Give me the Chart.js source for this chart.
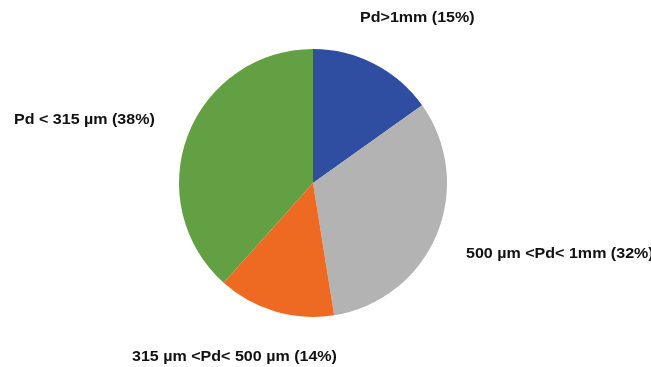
<!DOCTYPE html>
<html>
<head>
<meta charset="utf-8">
<script src="https://cdn.jsdelivr.net/npm/chart.js@4/dist/chart.umd.min.js"></script>
<style>
  html, body { margin: 0; padding: 0; background: #ffffff; }
  #wrap { width: 651px; height: 367px; position: relative; }
</style>
</head>
<body>
<div id="wrap"><canvas id="c" width="651" height="367"></canvas></div>
<script>
const categories = ["Pd>1mm", "500 µm <Pd< 1mm", "315 µm <Pd< 500 µm", "Pd < 315 µm"];
const percentages = [15, 32, 14, 38];
const labelTexts = ["Pd>1mm (15%)", "500 µm <Pd< 1mm (32%)", "315 µm <Pd< 500 µm (14%)", "Pd < 315 µm (38%)"];
const colors = ["#2F4EA1", "#B3B3B3", "#EE6A23", "#62A043"];

// label placement (layout only): offsets of text left/middle relative to pie center
const labelPos = [
  { dx: 47, dy: -165 },
  { dx: 153, dy: 71 },
  { dx: -181, dy: 174 },
  { dx: -299, dy: -63 }
];

const labelPlugin = {
  id: 'outLabels',
  afterDatasetsDraw(chart) {
    const ctx = chart.ctx;
    const arc = chart.getDatasetMeta(0).data[0];
    const cx = arc.x, cy = arc.y;
    ctx.save();
    ctx.font = 'bold 15px "Liberation Sans", Arial, sans-serif';
    ctx.fillStyle = '#111111';
    ctx.textAlign = 'left';
    ctx.textBaseline = 'middle';
    labelTexts.forEach((t, i) => {
      const x = cx + labelPos[i].dx, y = cy + labelPos[i].dy;
      ctx.save();
      ctx.translate(x, y);
      ctx.scale(1.07, 1);
      ctx.fillText(t, 0, 0);
      ctx.restore();
    });
    ctx.restore();
  }
};

new Chart(document.getElementById('c'), {
  type: 'pie',
  data: {
    labels: categories,
    datasets: [{
      data: percentages,
      backgroundColor: colors,
      borderWidth: 0
    }]
  },
  options: {
    responsive: false,
    animation: false,
    layout: { padding: { top: 49, bottom: 50, left: 0, right: 25 } },
    plugins: {
      legend: { display: false },
      tooltip: { enabled: false }
    }
  },
  plugins: [labelPlugin]
});
</script>
</body>
</html>
